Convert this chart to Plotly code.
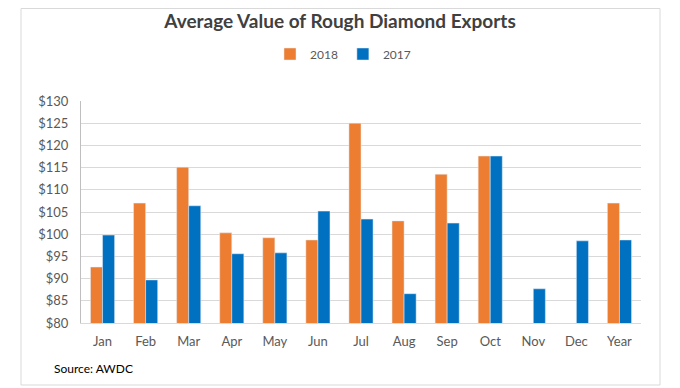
import plotly.graph_objects as go

categories = ["Jan", "Feb", "Mar", "Apr", "May", "Jun", "Jul", "Aug", "Sep", "Oct", "Nov", "Dec", "Year"]
values_2018 = [92.6, 107.0, 115.1, 100.3, 99.2, 98.7, 125.0, 103.0, 113.5, 117.6, None, None, 107.0]
values_2017 = [99.8, 89.7, 106.4, 95.6, 95.8, 105.2, 103.4, 86.6, 102.5, 117.6, 87.7, 98.5, 98.7]
tick_vals = [80, 85, 90, 95, 100, 105, 110, 115, 120, 125, 130]
tick_text = ["$" + str(v) for v in tick_vals]

FONT = "Lato, Open Sans, Liberation Sans, Arial, sans-serif"

# page body has an 8px default margin; work in reference pixels and shift
OFF = 8
W, H = 680 - OFF, 388 - OFF
L, T = 81 - OFF, 101 - OFF
plot_right = 641 - OFF
plot_bottom = 323 - OFF
R, B = W - plot_right, H - plot_bottom
pw, ph = W - L - R, H - T - B

def px_x(p):
    return (p - OFF - L) / pw

def px_y(p):
    return (H - B - (p - OFF)) / ph

fig = go.Figure()
fig.add_trace(go.Bar(name="2018", x=categories, y=values_2018, marker_color="#ED7D31"))
fig.add_trace(go.Bar(name="2017", x=categories, y=values_2017, marker_color="#0070C0"))

fig.update_layout(
    width=W, height=H,
    margin=dict(l=L, r=R, t=T, b=B, autoexpand=False),
    paper_bgcolor="white", plot_bgcolor="white",
    barmode="group", bargap=0.44, bargroupgap=0,
    font=dict(family=FONT, size=13, color="#595959"),
    title=dict(text="<b>Average Value of Rough Diamond Exports</b>",
               x=(340 - OFF) / W, xref="container", xanchor="center",
               y=1 - (21 - OFF) / H, yanchor="middle", yref="container",
               font=dict(family=FONT, size=19, color="#404040")),
    legend=dict(orientation="h", x=(343 - OFF) / W, xref="container", xanchor="center",
                y=1 - (54 - OFF) / H, yref="container", yanchor="middle",
                font=dict(family=FONT, size=12, color="#595959"),
                itemwidth=30, tracegroupgap=0, traceorder="normal"),
    xaxis=dict(showgrid=False, showline=True, linecolor="#d9d9d9", linewidth=1,
               ticks="", ticklabelstandoff=6, tickfont=dict(size=13, color="#595959")),
    yaxis=dict(range=[80, 130], tickvals=tick_vals, ticktext=tick_text,
               showgrid=True, gridcolor="#d9d9d9", gridwidth=1,
               showline=True, linecolor="#bfbfbf", linewidth=1,
               ticks="", zeroline=False, ticklabelstandoff=9,
               tickfont=dict(size=13, color="#595959")),
    showlegend=True,
)

fig.add_shape(type="rect", xref="paper", yref="paper",
              x0=px_x(21), x1=px_x(660), y0=px_y(385), y1=px_y(OFF + 0.5),
              line=dict(color="#d9d9d9", width=1), fillcolor="rgba(0,0,0,0)", layer="below")

fig.add_annotation(text="Source: AWDC", xref="paper", yref="paper",
                   x=px_x(52), y=px_y(368), xanchor="left", yanchor="middle",
                   showarrow=False, font=dict(family=FONT, size=12, color="#000000"))

fig.write_html("out.html")
